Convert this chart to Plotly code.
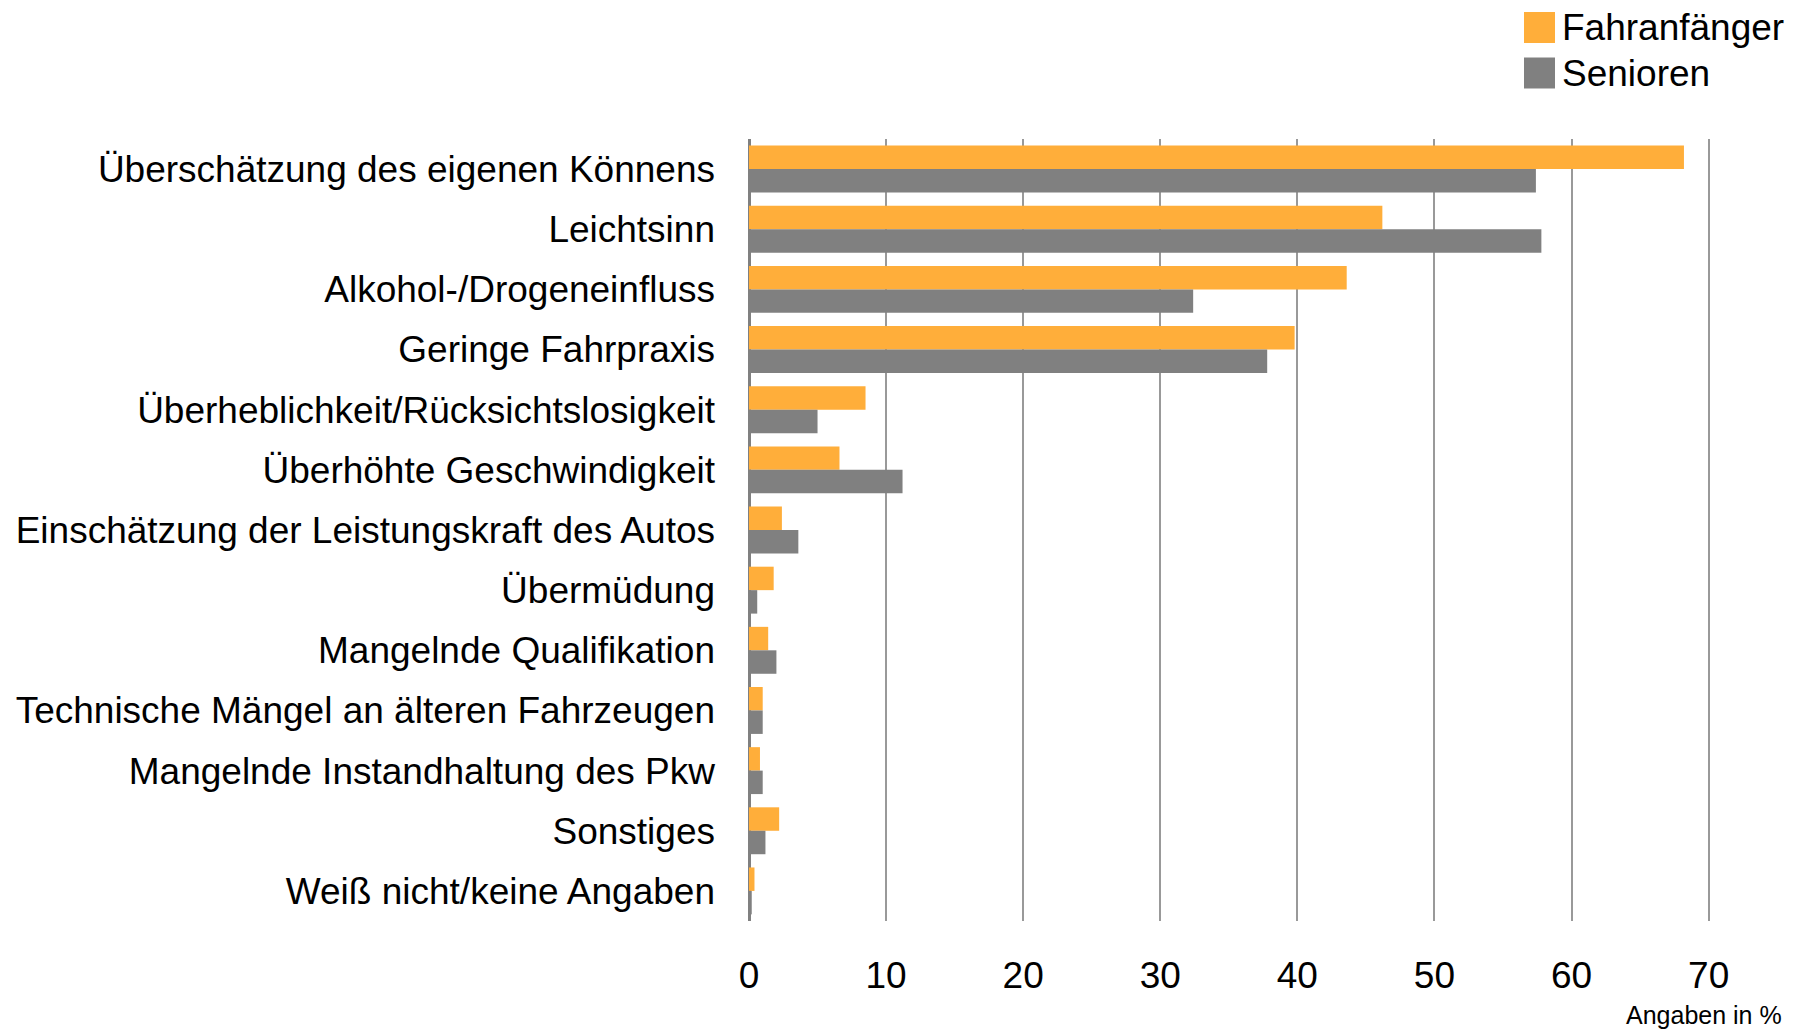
import plotly.graph_objects as go

categories = [
    "Überschätzung des eigenen Könnens",
    "Leichtsinn",
    "Alkohol-/Drogeneinfluss",
    "Geringe Fahrpraxis",
    "Überheblichkeit/Rücksichtslosigkeit",
    "Überhöhte Geschwindigkeit",
    "Einschätzung der Leistungskraft des Autos",
    "Übermüdung",
    "Mangelnde Qualifikation",
    "Technische Mängel an älteren Fahrzeugen",
    "Mangelnde Instandhaltung des Pkw",
    "Sonstiges",
    "Weiß nicht/keine Angaben",
]
fahranfaenger = [68.2, 46.2, 43.6, 39.8, 8.5, 6.6, 2.4, 1.8, 1.4, 1.0, 0.8, 2.2, 0.4]
senioren = [57.4, 57.8, 32.4, 37.8, 5.0, 11.2, 3.6, 0.6, 2.0, 1.0, 1.0, 1.2, 0.2]
series_names = ["Fahranfänger", "Senioren"]
colors = ["#FFAE3A", "#808080"]
x_ticks = [0, 10, 20, 30, 40, 50, 60, 70]
unit_note = "Angaben in %"

W, H = 1806, 1029
L, R, T, B = 749, 96, 139, 108
pw, ph = W - L - R, H - T - B

def px_x(x):
    return (x - L) / pw

def px_y(y):
    return (H - B - y) / ph

FONT = "Arial, Liberation Sans, sans-serif"
FS = 37

fig = go.Figure()
for name, vals, col in zip(series_names, [fahranfaenger, senioren], colors):
    fig.add_trace(go.Bar(
        y=categories, x=vals, name=name, orientation="h",
        marker=dict(color=col, line=dict(width=0)), showlegend=False,
    ))

shapes = []
annotations = []
leg_centers = [27.5, 73.0]
for name, col, cy in zip(series_names, colors, leg_centers):
    shapes.append(dict(type="rect", xref="paper", yref="paper",
                       x0=px_x(1524), x1=px_x(1555), y0=px_y(cy + 15.5), y1=px_y(cy - 15.5),
                       fillcolor=col, line=dict(width=0)))
    annotations.append(dict(text=name, xref="paper", yref="paper", x=px_x(1560), y=px_y(cy),
                            xanchor="left", yanchor="middle", showarrow=False,
                            font=dict(size=FS, color="#000000", family=FONT)))
annotations.append(dict(text=unit_note, xref="paper", yref="paper", x=px_x(1784), y=px_y(1015),
                        xanchor="right", yanchor="middle", showarrow=False,
                        font=dict(size=25, color="#000000", family=FONT)))

fig.update_layout(
    width=W, height=H,
    margin=dict(l=L, r=R, t=T, b=B, pad=0),
    paper_bgcolor="white", plot_bgcolor="white",
    barmode="group", bargap=0.22, bargroupgap=0,
    font=dict(family=FONT, size=FS, color="#000000"),
    shapes=shapes, annotations=annotations,
    showlegend=False,
)
fig.update_xaxes(
    range=[0, 70.1], tickvals=x_ticks, ticktext=[str(v) for v in x_ticks],
    showgrid=True, gridcolor="#999999", gridwidth=2,
    zeroline=True, zerolinecolor="#808080", zerolinewidth=3,
    showline=False, ticks="", ticklabelstandoff=29,
    tickfont=dict(size=FS, family=FONT, color="#000000"),
)
fig.update_yaxes(
    autorange="reversed", showgrid=False, zeroline=False, showline=False,
    ticks="", ticklabelstandoff=33,
    tickfont=dict(size=FS, family=FONT, color="#000000"),
)

fig.write_html("out.html", config={"displayModeBar": False},
               post_script="document.body.style.margin='0';document.body.style.padding='0';")
